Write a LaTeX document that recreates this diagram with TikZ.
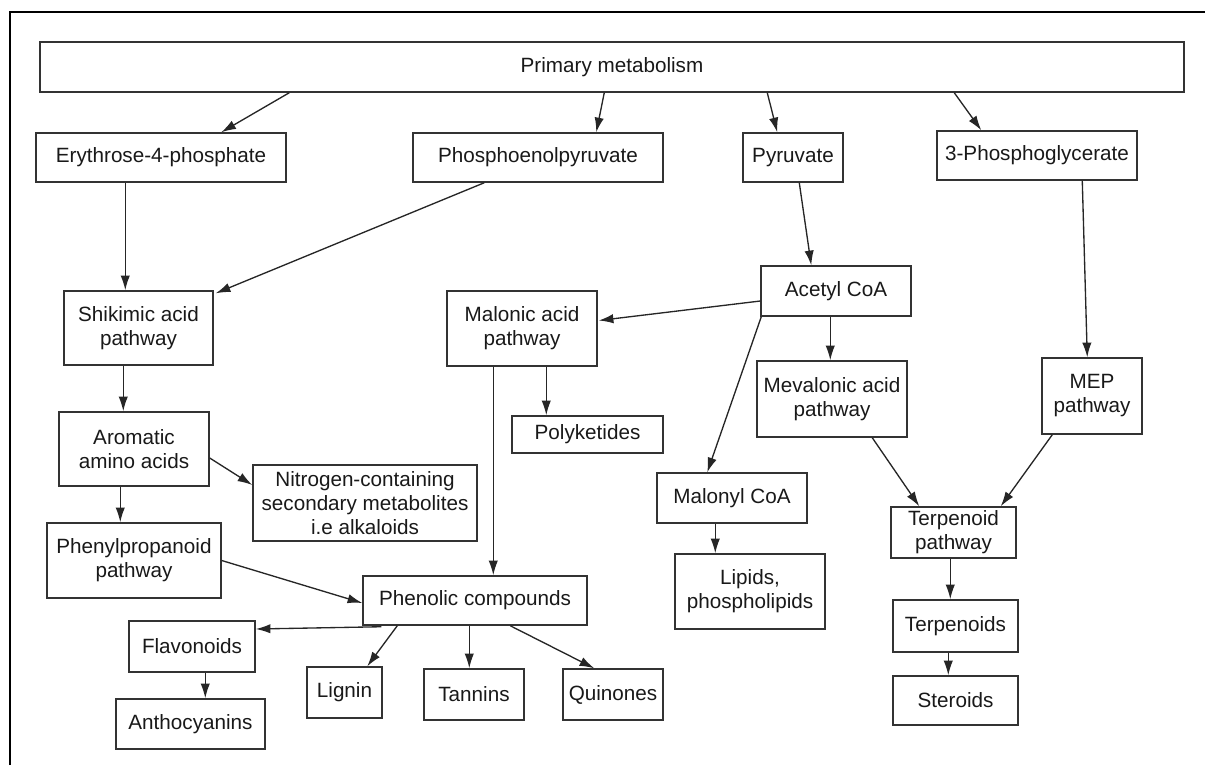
\documentclass[tikz,border=0pt]{standalone}
\usepackage{fontspec}
\setmainfont{Liberation Sans}
\usetikzlibrary{arrows.meta,calc}

\tikzset{
  blk/.style={draw=black!80,line width=1.1pt,fill=white,align=center,inner sep=0pt,
    text=black!90,font=\fontsize{15.5}{18}\selectfont},
  sz/.style 2 args={minimum width=#1*0.75pt,minimum height=#2*0.75pt},
  link/.style={->,line width=1pt,black!85}
}

\begin{document}
\begin{tikzpicture}[x=0.75pt,y=-0.75pt,>={Latex[length=11pt,width=7pt]}]
  \useasboundingbox (0,0) rectangle (1205,765);
  \draw[line width=1.6pt] (10,765) -- (10,12) -- (1205,12);

  \node[blk,sz={1144}{50}] (prim) at (612,67) {Primary metabolism};
  \node[blk,sz={250}{49}] (ery) at (161,157.5) {Erythrose-4-phosphate};
  \node[blk,sz={250}{49}] (pep) at (538,157.5) {Phosphoenolpyruvate};
  \node[blk,sz={100}{49}] (pyr) at (793,157.5) {Pyruvate};
  \node[blk,sz={200}{49}] (pg3) at (1037,155.5) {3-Phosphoglycerate};
  \node[blk,sz={149}{74}] (shik) at (138.5,328) {Shikimic acid\\pathway};
  \node[blk,sz={150}{75}] (mal) at (522,328.5) {Malonic acid\\pathway};
  \node[blk,sz={150}{50}] (acet) at (836,291) {Acetyl CoA};
  \node[blk,sz={150}{76}] (mev) at (832,399) {Mevalonic acid\\pathway};
  \node[blk,sz={100}{76}] (mep) at (1092,396) {MEP\\pathway};
  \node[blk,sz={151}{37}] (poly) at (587.5,434.5) {Polyketides};
  \node[blk,sz={150}{74}] (arom) at (134,449) {Aromatic\\amino acids};
  \node[blk,sz={224}{76}] (nitro) at (365,503) {Nitrogen-containing\\secondary metabolites\\i.e alkaloids};
  \node[blk,sz={150}{50}] (malcoa) at (732,498) {Malonyl CoA};
  \node[blk,sz={174}{75}] (phpr) at (134,560.5) {Phenylpropanoid\\pathway};
  \node[blk,sz={125}{51}] (terp) at (953.5,532.5) {Terpenoid\\pathway};
  \node[blk,sz={150}{75}] (lip) at (750,591.5) {Lipids,\\phospholipids};
  \node[blk,sz={224}{49}] (phen) at (475,600.5) {Phenolic compounds};
  \node[blk,sz={126}{51}] (flav) at (192,646.5) {Flavonoids};
  \node[blk,sz={75}{51}] (lig) at (344.5,692.5) {Lignin};
  \node[blk,sz={100}{51}] (tan) at (474,694.5) {Tannins};
  \node[blk,sz={100}{51}] (quin) at (613,694.5) {Quinones};
  \node[blk,sz={125}{52}] (terps) at (955.5,626) {Terpenoids};
  \node[blk,sz={125}{49}] (ster) at (955.5,700.5) {Steroids};
  \node[blk,sz={149}{50}] (anth) at (190.5,724) {Anthocyanins};

  \draw[link] ($(prim.south west)+(250,0)$) -- ($(ery.north west)+(186,0)$);
  \draw[link] ($(prim.south west)+(565,0)$) -- ($(pep.north west)+(184,0)$);
  \draw[link] ($(prim.south west)+(728,0)$) -- ($(pyr.north west)+(35,0)$);
  \draw[link] ($(prim.south west)+(915,0)$) -- ($(pg3.north west)+(45,0)$);
  \draw[link] ($(ery.south west)+(90,0)$) -- ($(shik.north west)+(62,0)$);
  \draw[link] ($(pep.south west)+(72,0)$) -- ($(shik.north east)+(2,3)$);
  \draw[link] ($(pyr.south west)+(57,0)$) -- ($(acet.north west)+(51,0)$);
  \draw[link] ($(pg3.south west)+(146,0)$) -- ($(mep.north west)+(46,0)$);
  \draw[link] ($(acet.west)+(0,10)$) -- ($(mal.east)+(1,-8)$);
  \draw[link] ($(acet.south west)+(70,0)$) -- ($(mev.north west)+(74,0)$);
  \draw[link] ($(acet.south west)+(1,0)$) -- ($(malcoa.north west)+(51,0)$);
  \draw[link] ($(mal.south west)+(100,0)$) -- ($(poly.north west)+(35,0)$);
  \draw[link] ($(mal.south west)+(47,0)$) -- ($(phen.north west)+(131,0)$);
  \draw[link] ($(shik.south west)+(60,0)$) -- ($(arom.north west)+(65,0)$);
  \draw[link] ($(arom.east)+(0,9)$) -- ($(nitro.west)+(0,-18)$);
  \draw[link] ($(arom.south west)+(62,0)$) -- ($(phpr.north west)+(74,0)$);
  \draw[link] (phpr.east) -- ($(phen.west)+(0,2.5)$);
  \draw[link] ($(mev.south west)+(116,0)$) -- ($(terp.north west)+(29,0)$);
  \draw[link] ($(mep.south west)+(11,0)$) -- ($(terp.north east)+(-16,0)$);
  \draw[link] ($(malcoa.south west)+(59,0)$) -- ($(lip.north west)+(41,0)$);
  \draw[link] ($(terp.south west)+(60,0)$) -- ($(terps.north west)+(58,0)$);
  \draw[link] ($(terps.south west)+(56,0)$) -- ($(ster.north west)+(56,0)$);
  \draw[link] ($(phen.south west)+(19,1)$) -- ($(flav.east)+(0,-17.5)$);
  \draw[link] ($(phen.south west)+(35,0)$) -- ($(lig.north west)+(61,0)$);
  \draw[link] ($(phen.south west)+(107,0)$) -- ($(tan.north west)+(46,0)$);
  \draw[link] ($(phen.south west)+(148,0)$) -- ($(quin.north west)+(32,0)$);
  \draw[link] ($(flav.south west)+(77,0)$) -- ($(anth.north west)+(90,0)$);
\end{tikzpicture}
\end{document}
